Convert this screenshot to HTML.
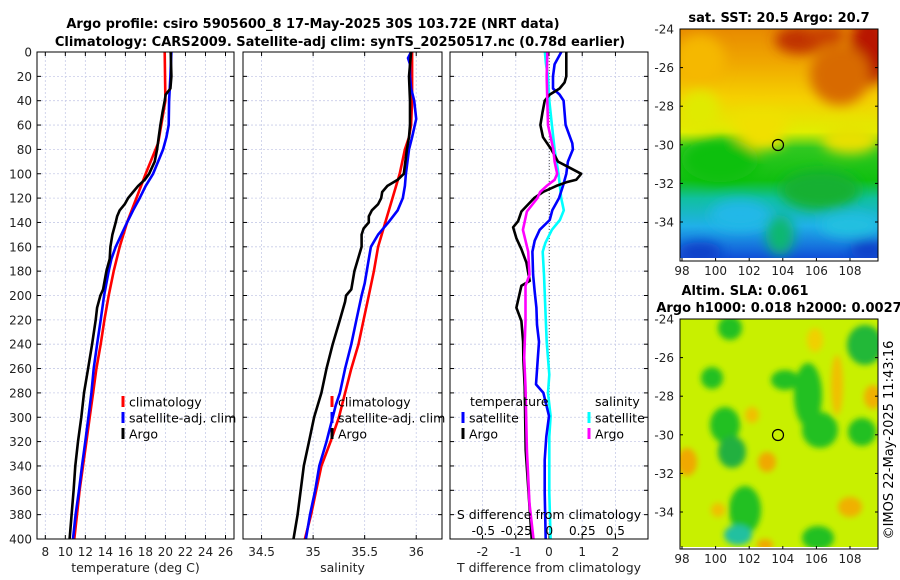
<!DOCTYPE html>
<html><head><meta charset="utf-8"><style>
html,body{margin:0;padding:0;background:#fff;}
svg{display:block;font-family:"DejaVu Sans","Liberation Sans",sans-serif;}
</style></head><body>
<svg id="fig" width="900" height="580" viewBox="0 0 900 580">
<defs>
<filter id="blur6"><feGaussianBlur stdDeviation="6"/></filter>
<filter id="blur3"><feGaussianBlur stdDeviation="3"/></filter>
<clipPath id="clipTop"><rect x="680" y="29" width="198" height="229"/></clipPath>
<clipPath id="clipBot"><rect x="680" y="319" width="198" height="228"/></clipPath>
<linearGradient id="sstGrad" x1="0" y1="0" x2="0" y2="1">
<stop offset="0" stop-color="#e88a00"/><stop offset="0.15" stop-color="#f0a800"/>
<stop offset="0.3" stop-color="#f5d000"/><stop offset="0.45" stop-color="#e0ee00"/>
<stop offset="0.52" stop-color="#30c820"/><stop offset="0.66" stop-color="#10c010"/>
<stop offset="0.74" stop-color="#10c0a0"/><stop offset="0.86" stop-color="#20b0e8"/>
<stop offset="1" stop-color="#1050d8"/></linearGradient>
</defs>
<g font-weight="bold" font-size="13" text-anchor="middle" fill="#000">
<text x="313" y="28">Argo profile: csiro 5905600_8 17-May-2025 30S 103.72E (NRT data)</text>
<text x="340" y="46">Climatology: CARS2009. Satellite-adj clim: synTS_20250517.nc (0.78d earlier)</text>
</g>
<g id="panels"></g>
<g>
<text x="779" y="22" font-size="13" font-weight="bold" text-anchor="middle">sat. SST: 20.5 Argo: 20.7</text>
<g clip-path="url(#clipTop)">
<rect x="680" y="29" width="198" height="229" fill="url(#sstGrad)"/>
<g filter="url(#blur6)">
<ellipse cx="800" cy="40" rx="25" ry="14" fill="#c03000"/>
<ellipse cx="870" cy="50" rx="20" ry="35" fill="#b81800"/>
<ellipse cx="825" cy="35" rx="20" ry="10" fill="#c84000"/>
<ellipse cx="840" cy="75" rx="30" ry="30" fill="#d86a00"/>
<ellipse cx="700" cy="60" rx="25" ry="25" fill="#f5b800"/>
<ellipse cx="700" cy="110" rx="20" ry="20" fill="#e0ea00"/>
<ellipse cx="760" cy="122" rx="30" ry="12" fill="#f0e000"/>
<ellipse cx="850" cy="140" rx="28" ry="14" fill="#e8e000"/>
<ellipse cx="760" cy="140" rx="25" ry="10" fill="#f0e000"/>
<ellipse cx="720" cy="160" rx="38" ry="22" fill="#10c010"/>
<ellipse cx="820" cy="190" rx="40" ry="20" fill="#18b030"/>
<ellipse cx="740" cy="215" rx="30" ry="15" fill="#20b8e8"/>
<ellipse cx="850" cy="225" rx="30" ry="12" fill="#20c0e0"/>
<ellipse cx="780" cy="235" rx="14" ry="20" fill="#10b870"/>
<ellipse cx="700" cy="252" rx="22" ry="10" fill="#0840c8"/>
<ellipse cx="868" cy="250" rx="18" ry="10" fill="#0840c8"/>
</g></g>
<rect x="680" y="258" width="198" height="3" fill="#fff"/>
<rect x="680" y="29" width="198" height="232" fill="none" stroke="#000" stroke-width="1"/>
<circle cx="778" cy="145" r="5.5" fill="none" stroke="#000" stroke-width="1.2"/>
</g>
<g>
<text x="745" y="295" font-size="13" font-weight="bold" text-anchor="middle">Altim. SLA: 0.061</text>
<text x="779" y="312" font-size="13" font-weight="bold" text-anchor="middle">Argo h1000: 0.018 h2000: 0.0027</text>
<g clip-path="url(#clipBot)">
<rect x="680" y="319" width="198" height="228" fill="#c8f000"/>
<g filter="url(#blur3)">
<ellipse cx="730" cy="328" rx="12" ry="12" fill="#20c020"/>
<ellipse cx="712" cy="378" rx="11" ry="11" fill="#20c020"/>
<ellipse cx="725" cy="425" rx="15" ry="18" fill="#20c020"/>
<ellipse cx="732" cy="452" rx="14" ry="16" fill="#20b040"/>
<ellipse cx="785" cy="380" rx="14" ry="10" fill="#20c020"/>
<ellipse cx="808" cy="395" rx="14" ry="32" fill="#20c020"/>
<ellipse cx="820" cy="430" rx="18" ry="18" fill="#20c020"/>
<ellipse cx="865" cy="345" rx="18" ry="20" fill="#20b838"/>
<ellipse cx="862" cy="432" rx="14" ry="14" fill="#20c020"/>
<ellipse cx="745" cy="510" rx="16" ry="24" fill="#20c020"/>
<ellipse cx="738" cy="535" rx="14" ry="10" fill="#20c0a0"/>
<ellipse cx="818" cy="538" rx="16" ry="12" fill="#20c020"/>
<ellipse cx="752" cy="415" rx="7" ry="8" fill="#f0c000"/>
<ellipse cx="767" cy="462" rx="9" ry="10" fill="#f0a800"/>
<ellipse cx="687" cy="462" rx="10" ry="14" fill="#f0a800"/>
<ellipse cx="850" cy="507" rx="12" ry="10" fill="#f0b000"/>
<ellipse cx="873" cy="397" rx="9" ry="12" fill="#f0b000"/>
<ellipse cx="837" cy="385" rx="6" ry="30" fill="#f0c000"/>
<ellipse cx="815" cy="340" rx="8" ry="12" fill="#f0d000"/>
<ellipse cx="718" cy="510" rx="7" ry="7" fill="#f0c000"/>
<ellipse cx="765" cy="545" rx="8" ry="6" fill="#f0a800"/>
</g></g>
<rect x="680" y="319" width="198" height="230" fill="none" stroke="#000" stroke-width="1"/>
<circle cx="778" cy="435" r="5.5" fill="none" stroke="#000" stroke-width="1.2"/>
</g>
<g id="maplabels"></g>
<text transform="translate(893,440) rotate(-90)" font-size="13" text-anchor="middle">©IMOS 22-May-2025 11:43:16</text>
</svg>
<script>
const depths=[0,10,20,30,35,40,50,60,70,80,90,100,105,110,115,120,125,130,135,140,145,150,160,170,180,195,200,210,220,240,260,280,300,320,340,360,380,400];
const tempClimD=[0,40,75,100,120,140,160,180,200,220,240,260,280,300,320,340,360,380,400];
const tempClim=[19.93,20.0,19.27,18.03,17.1,16.17,15.43,14.83,14.33,13.9,13.53,13.1,12.77,12.43,12.1,11.77,11.43,11.17,10.9];
const tempSatD=[0,20,40,60,70,80,90,100,110,120,130,140,150,160,170,180,200,220,240,260,280,300,320,340,360,380,400];
const tempSat=[20.6,20.5,20.37,20.33,20.1,19.77,19.27,18.77,18.03,17.43,16.77,16.17,15.6,15.03,14.6,14.33,13.87,13.53,13.17,12.83,12.6,12.3,12.0,11.67,11.37,11.03,10.77];
const tempArgoD=[0,20,30,35,40,50,60,70,80,90,100,105,110,115,120,125,130,135,140,150,160,170,180,195,200,210,220,240,260,280,300,320,340,360,380,400];
const tempArgo=[20.53,20.6,20.5,20.03,19.93,19.7,19.5,19.33,19.17,18.93,18.37,17.93,17.27,16.77,16.27,15.93,15.43,15.17,15.03,14.7,14.5,14.43,14.1,13.77,13.5,13.17,13.03,12.67,12.27,11.87,11.6,11.27,11.0,10.83,10.63,10.43];
const salClimD=[0,40,60,70,80,100,120,140,160,180,200,220,240,260,280,300,320,340,360,380,400];
const salClim=[35.96,35.96,35.95,35.93,35.89,35.84,35.77,35.70,35.63,35.59,35.54,35.49,35.44,35.37,35.31,35.25,35.17,35.08,35.03,34.98,34.92];
const salSatD=[0,5,10,20,30,40,55,70,80,100,110,120,130,140,150,160,170,190,200,220,240,260,280,290,300,320,340,360,380,400];
const salSat=[35.95,35.92,35.94,35.94,35.95,35.98,36.0,35.96,35.93,35.90,35.89,35.87,35.82,35.73,35.63,35.56,35.54,35.50,35.47,35.42,35.37,35.31,35.26,35.22,35.19,35.13,35.06,35.02,34.97,34.93];
const salArgoD=[0,20,40,60,70,80,100,105,110,115,120,125,130,135,140,145,150,160,180,195,200,205,220,240,260,280,300,320,340,360,380,400];
const salArgo=[35.95,35.93,35.94,35.94,35.93,35.91,35.88,35.82,35.72,35.67,35.66,35.63,35.57,35.54,35.54,35.49,35.47,35.47,35.40,35.37,35.32,35.31,35.26,35.19,35.13,35.08,35.01,34.96,34.91,34.88,34.85,34.81];
const tDiffSatD=[0,10,20,30,35,40,60,75,80,90,100,110,120,130,138,146,155,164,183,197,210,224,238,253,273,280,299,316,335,362,400];
const tDiffSat=[0.37,0.17,0.12,0.12,0.32,0.44,0.5,0.7,0.72,0.57,0.52,0.42,0.3,0.1,0.02,-0.28,-0.43,-0.5,-0.48,-0.43,-0.38,-0.36,-0.3,-0.34,-0.39,-0.17,0.0,-0.08,-0.13,-0.13,-0.1];
const tDiffArgoD=[0,10,20,25,30,35,40,50,60,70,80,90,95,100,105,107,110,115,120,131,139,144,153,162,173,188,192,210,221,238,253,275,327,400];
const tDiffArgo=[0.52,0.52,0.52,0.47,0.32,0.02,-0.13,-0.2,-0.26,-0.18,0.07,0.27,0.62,0.97,0.82,0.52,0.22,-0.18,-0.45,-0.83,-0.93,-1.08,-0.98,-0.83,-0.68,-0.58,-0.83,-0.98,-0.83,-0.78,-0.77,-0.73,-0.7,-0.52];
const sDiffSatD=[0,10,20,40,60,80,100,110,120,130,138,146,157,164,183,210,238,265,280,299,316,362,400];
const sDiffSat=[-0.033,-0.025,-0.01,0,0.02,0.04,0.07,0.08,0.09,0.11,0.08,0.02,-0.03,-0.05,-0.04,-0.03,-0.02,0.0,-0.01,0.01,0.0,0.0,0.01];
const sDiffArgoD=[0,20,40,60,80,90,100,105,110,115,120,131,146,164,183,192,221,251,275,327,371,400];
const sDiffArgo=[-0.015,-0.02,-0.015,-0.01,0.03,0.04,0.06,0.04,-0.02,-0.07,-0.09,-0.17,-0.2,-0.16,-0.15,-0.18,-0.18,-0.19,-0.18,-0.17,-0.15,-0.12];
const depthTicks=[0,20,40,60,80,100,120,140,160,180,200,220,240,260,280,300,320,340,360,380,400];
const tempTicks=[8,10,12,14,16,18,20,22,24,26];
const salTicks=[34.5,35,35.5,36];
const tDiffTicks=[-2,-1,0,1,2];
const sDiffTicks=["-0.5","-0.25","0","0.25","0.5"];
const lonTicks=[98,100,102,104,106,108];
const latTicks=[-24,-26,-28,-30,-32,-34];

const NS='http://www.w3.org/2000/svg';
const Y0=52,Y1=539;
const yD=d=>Y0+(d/400)*(Y1-Y0);
function mk(tag,attrs,parent,text){const e=document.createElementNS(NS,tag);for(const k in attrs)e.setAttribute(k,attrs[k]);if(text!==undefined)e.textContent=text;parent.appendChild(e);return e;}
const root=document.getElementById('panels');

function panel(name,x0,x1,xmin,xmax,ticks,labelFn,xlabel,showY){
  const g=mk('g',{},root);
  
  
  const xs=v=>x0+(v-xmin)/(xmax-xmin)*(x1-x0);
  ticks.forEach(t=>{
    const gl=mk('line',{x1:xs(t),x2:xs(t),y1:Y0,y2:Y1,stroke:'#c8cce8','stroke-width':0.8,'stroke-dasharray':'2,2'},g);
    
    
    mk('line',{x1:xs(t),x2:xs(t),y1:Y1,y2:Y1-4,stroke:'#000'},g);
    mk('line',{x1:xs(t),x2:xs(t),y1:Y0,y2:Y0+4,stroke:'#000'},g);
    const tl=mk('text',{x:xs(t),y:556,'font-size':12,'text-anchor':'middle',fill:'#222'},g,labelFn(t));
    
    
  });
  depthTicks.forEach(d=>{
    const gl=mk('line',{x1:x0,x2:x1,y1:yD(d),y2:yD(d),stroke:'#c8cce8','stroke-width':0.8,'stroke-dasharray':'2,2'},g);
    
    
    mk('line',{x1:x0,x2:x0+4,y1:yD(d),y2:yD(d),stroke:'#000'},g);
    mk('line',{x1:x1,x2:x1-4,y1:yD(d),y2:yD(d),stroke:'#000'},g);
    if(showY){const tl=mk('text',{x:32,y:yD(d)+4.5,'font-size':12,'text-anchor':'end',fill:'#222'},g,String(d));
      
      }
  });
  const xl=mk('text',{x:(x0+x1)/2,y:572,'font-size':12.5,'text-anchor':'middle',fill:'#222'},g,xlabel);
  
  
  return {g,xs};
}
function line(p,ds,vs,color,name,scale){
  const pts=ds.map((d,i)=>(scale(vs[i])).toFixed(1)+','+yD(d).toFixed(1)).join(' ');
  const e=mk('polyline',{points:pts,fill:'none',stroke:color,'stroke-width':2.6,'stroke-linejoin':'round'},p.g);
  
  
}
function box(p,x0,x1){mk('rect',{x:x0,y:Y0,width:x1-x0,height:Y1-Y0,fill:'none',stroke:'#000','stroke-width':1},p.g);}
function legend(p,x,y,color,label,name){
  const r=mk('rect',{x:x-1.5,y:y-6,width:3,height:11,fill:color},p.g);
  
  
  const t=mk('text',{x:x+6,y:y+4.5,'font-size':12.5,fill:'#000'},p.g,label);
  
  
}

const p1=panel('temperature',37,234,7.17,26.85,tempTicks,String,'temperature (deg C)',true);
line(p1,tempClimD,tempClim,'#ff0000','temp-climatology-line',p1.xs);
line(p1,tempSatD,tempSat,'#0000ff','temp-satellite-line',p1.xs);
line(p1,tempArgoD,tempArgo,'#000000','temp-argo-line',p1.xs);
box(p1,37,234);
legend(p1,123,402,'#ff0000','climatology','temp-legend-climatology');
legend(p1,123,418,'#0000ff','satellite-adj. clim','temp-legend-satellite');
legend(p1,123,434,'#000000','Argo','temp-legend-argo');

const p2=panel('salinity',243,442,34.32,36.25,salTicks,String,'salinity',false);
line(p2,salClimD,salClim,'#ff0000','sal-climatology-line',p2.xs);
line(p2,salSatD,salSat,'#0000ff','sal-satellite-line',p2.xs);
line(p2,salArgoD,salArgo,'#000000','sal-argo-line',p2.xs);
box(p2,243,442);
legend(p2,332,402,'#ff0000','climatology','sal-legend-climatology');
legend(p2,332,418,'#0000ff','satellite-adj. clim','sal-legend-satellite');
legend(p2,332,434,'#000000','Argo','sal-legend-argo');

const p3=panel('difference',450,648,-2.98,2.98,tDiffTicks,String,'T difference from climatology',false);
const sxs=v=>549.3+v*132;
mk('line',{x1:549.3,x2:549.3,y1:Y0,y2:Y1,stroke:'#555','stroke-width':1,'stroke-dasharray':'1,2'},p3.g);
line(p3,sDiffSatD,sDiffSat,'#00ffff','sdiff-satellite-line',sxs);
line(p3,tDiffSatD,tDiffSat,'#0000ff','tdiff-satellite-line',p3.xs);
line(p3,tDiffArgoD,tDiffArgo,'#000000','tdiff-argo-line',p3.xs);
line(p3,sDiffArgoD,sDiffArgo,'#ff00ff','sdiff-argo-line',sxs);
box(p3,450,648);
let tt=mk('text',{x:470,y:406,'font-size':12.5},p3.g,'temperature');


tt=mk('text',{x:595,y:406,'font-size':12.5},p3.g,'salinity');


legend(p3,463,418,'#0000ff','satellite','diff-legend-t-satellite');
legend(p3,463,434,'#000000','Argo','diff-legend-t-argo');
legend(p3,589,418,'#00ffff','satellite','diff-legend-s-satellite');
legend(p3,589,434,'#ff00ff','Argo','diff-legend-s-argo');
tt=mk('text',{x:549,y:519,'font-size':12.5,'text-anchor':'middle'},p3.g,'S difference from climatology');


sDiffTicks.forEach(s=>{
  const t=mk('text',{x:sxs(parseFloat(s)),y:535,'font-size':12,'text-anchor':'middle'},p3.g,s);
  
  
});

const ml=document.getElementById('maplabels');
function mapAxes(top,latTopY,bottomAxisY){
  const lx=v=>682+(v-98)*16.8;
  const ly=v=>latTopY+(-24-v)*19.3;
  lonTicks.forEach(v=>{
    mk('line',{x1:lx(v),x2:lx(v),y1:bottomAxisY,y2:bottomAxisY-3,stroke:'#000'},ml);
    const t=mk('text',{x:lx(v),y:bottomAxisY+14,'font-size':12,'text-anchor':'middle',fill:'#222'},ml,String(v));
    
    
  });
  latTicks.forEach(v=>{
    mk('line',{x1:680,x2:683,y1:ly(v),y2:ly(v),stroke:'#000'},ml);
    mk('line',{x1:878,x2:875,y1:ly(v),y2:ly(v),stroke:'#000'},ml);
    const t=mk('text',{x:674,y:ly(v)+4.5,'font-size':12,'text-anchor':'end',fill:'#222'},ml,String(v));
    
    
  });
}
mapAxes('sst-map',29,261);
mapAxes('sla-map',319,549);
</script>
</body></html>
